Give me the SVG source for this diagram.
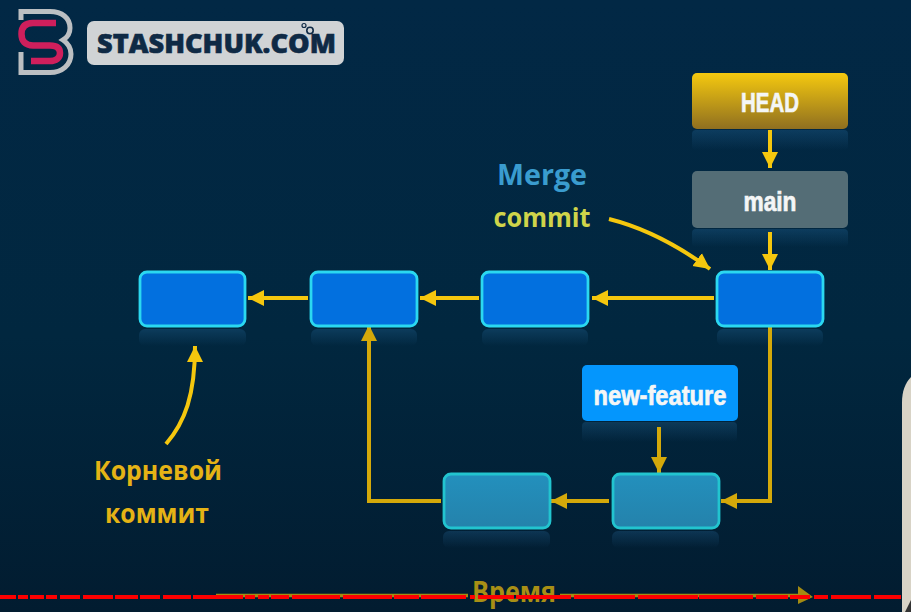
<svg xmlns="http://www.w3.org/2000/svg" width="911" height="612" viewBox="0 0 911 612">
<defs>
<linearGradient id="bg" x1="0" y1="0" x2="0" y2="1"><stop offset="0" stop-color="#022845"/><stop offset="0.55" stop-color="#01273f"/><stop offset="1" stop-color="#021c30"/></linearGradient>
<linearGradient id="headFill" x1="0" y1="0" x2="0" y2="1"><stop offset="0" stop-color="#f5c90f"/><stop offset="1" stop-color="#8f6f20"/></linearGradient>
<linearGradient id="featureFill" x1="0" y1="0" x2="0" y2="1"><stop offset="0" stop-color="#2390bd"/><stop offset="1" stop-color="#2482ab"/></linearGradient>
<linearGradient id="refl" x1="0" y1="0" x2="0" y2="1"><stop offset="0" stop-color="#3a8fd0" stop-opacity="0.2"/><stop offset="1" stop-color="#3a8fd0" stop-opacity="0"/></linearGradient>
<marker id="ah" markerUnits="userSpaceOnUse" markerWidth="18" markerHeight="18" refX="16" refY="9" orient="auto"><path d="M0,1 L16,9 L0,17 Z" fill="#f5c70e"/></marker>
<marker id="ahd" markerUnits="userSpaceOnUse" markerWidth="18" markerHeight="18" refX="16" refY="9" orient="auto"><path d="M0,1 L16,9 L0,17 Z" fill="#d4a90a"/></marker>
</defs>
<style>
.commit{fill:#0270df;stroke:#2bd8f0;stroke-width:2.8}
.feat{fill:url(#featureFill);stroke:#22c4cf;stroke-width:2.8}
.refl{fill:url(#refl);stroke:none}
.c{fill:none;stroke:#f5c70e;stroke-width:4;marker-end:url(#ah)}
.cd{fill:none;stroke:#d4a90a;stroke-width:4;marker-end:url(#ahd)}
.lab{font-family:"Liberation Sans Narrow","Liberation Sans",sans-serif;font-weight:700;fill:#f4f6f6;stroke:#f4f6f6;stroke-width:.7;text-anchor:middle}
.hand{font-family:"Open Sans","DejaVu Sans",sans-serif;font-weight:700;text-anchor:middle}
</style>
<rect width="911" height="612" fill="url(#bg)"/>

<g id="logo">
<path d="M21,20 V11.5 H50 C62,11.5 70,18 70,28 C70,33 68,37 63,40 C69,44 71,48 71,54 C71,65 62,72.5 50,72.5 H21 V52" fill="none" stroke="#bcbfc2" stroke-width="5"/>
<path d="M56,23 H33 C25,23 21.500,27 21.500,34 C21.500,41 25,45.500 33,45.500 H50 C58,45.500 60,49 60,53 C60,58 56,61 50,61 H31" fill="none" stroke="#cf1f5c" stroke-width="6.500"/>
</g>
<g id="site">
<rect x="87" y="21" width="257" height="44" rx="7" fill="#d0d3d5"/>
<text x="97" y="53" font-family="'Open Sans','DejaVu Sans',sans-serif" font-weight="800" font-size="27" fill="#0f2a45" stroke="#0f2a45" stroke-width=".6" textLength="239" lengthAdjust="spacingAndGlyphs">STASHCHUK.COM</text>
<circle cx="310" cy="30.500" r="3.200" fill="none" stroke="#0f2a45" stroke-width="1.600"/>
<circle cx="304" cy="25.500" r="2" fill="none" stroke="#0f2a45" stroke-width="1.200"/>
</g>

<g id="reflections">
<rect class="refl" x="692" y="130" width="156" height="20" rx="4"/>
<rect class="refl" x="692" y="229" width="156" height="18" rx="4"/>
<rect class="refl" x="139" y="329" width="107" height="17" rx="6"/>
<rect class="refl" x="311" y="329" width="106" height="17" rx="6"/>
<rect class="refl" x="482" y="329" width="106" height="17" rx="6"/>
<rect class="refl" x="717" y="329" width="106" height="17" rx="6"/>
<rect class="refl" x="582" y="422" width="155" height="20" rx="4"/>
<rect class="refl" x="443" y="531" width="107" height="17" rx="6"/>
<rect class="refl" x="612" y="531" width="107" height="17" rx="6"/>
</g>

<g id="connectors">
<path class="c" d="M770,130 V168"/>
<path class="c" d="M770,232 V270"/>
<path class="c" d="M714,298 H592"/>
<path class="c" d="M479,298 H420"/>
<path class="c" d="M308,298 H248"/>
<path class="c" d="M609,219 C645,228 680,247 710,269"/>
<path class="c" d="M166,444 C185,422 195,395 195,346"/>
<path class="cd" d="M770,323 V501 H721"/>
<path class="cd" d="M609,501 H551"/>
<path class="cd" d="M659,427 V473"/>
<path class="cd" d="M441,501 H369 V325"/>
</g>

<g id="head"><rect x="692" y="73" width="156" height="56" rx="5" fill="url(#headFill)"/><text class="lab" x="770" y="112" font-size="27" textLength="58" lengthAdjust="spacingAndGlyphs">HEAD</text></g>
<g id="main"><rect x="692" y="171" width="156" height="57" rx="5" fill="#546d76"/><text class="lab" x="770" y="211" font-size="27" textLength="53" lengthAdjust="spacingAndGlyphs">main</text></g>
<g id="new-feature"><rect x="582" y="365" width="156" height="56" rx="5" fill="#0496fd"/><text class="lab" x="660" y="405" font-size="27" textLength="133" lengthAdjust="spacingAndGlyphs">new-feature</text></g>
<g id="commit-1"><rect class="commit" x="140" y="272" width="105" height="54" rx="7"/></g>
<g id="commit-2"><rect class="commit" x="311" y="272" width="106" height="54" rx="7"/></g>
<g id="commit-3"><rect class="commit" x="482" y="272" width="106" height="54" rx="7"/></g>
<g id="commit-4"><rect class="commit" x="717" y="272" width="106" height="54" rx="7"/></g>
<g id="feature-1"><rect class="feat" x="444" y="474" width="106" height="54" rx="7"/></g>
<g id="feature-2"><rect class="feat" x="613" y="474" width="106" height="54" rx="7"/></g>

<g id="labels">
<text class="hand" x="542" y="185" font-size="29" fill="#3a9ccf" textLength="90" lengthAdjust="spacingAndGlyphs">Merge</text>
<text class="hand" x="542" y="227" font-size="27" fill="#cfd44a" textLength="97" lengthAdjust="spacingAndGlyphs">commit</text>
<text class="hand" x="158" y="480" font-size="27" fill="#e5b315" textLength="128" lengthAdjust="spacingAndGlyphs">Корневой</text>
<text class="hand" x="157" y="523" font-size="27" fill="#e5b315" textLength="104" lengthAdjust="spacingAndGlyphs">коммит</text>
</g>

<g id="time-axis">
<path d="M216,595.500 H468 M560,595.500 H800" stroke="#a38b12" stroke-width="3.500" fill="none"/>
<path d="M798,586 L813,597 L798,604 Z" fill="#a38b12"/>
<text class="hand" x="514" y="602" font-size="28" fill="#a88f15" textLength="84" lengthAdjust="spacingAndGlyphs">Время</text>
<path d="M0,597 H16 M18,597 H28 M30,597 H44 M46,597 H57 M60,597 H80 M83,597 H113 M115,597 H138 M140,597 H160 M163,597 H191 M193,597 H243 M245,597 H255 M258,597 H269 M271,597 H289 M292,597 H340 M343,597 H392 M394,597 H419 M421,597 H466 M470,597 H475 M478,597 H514 M516,597 H571 M574,597 H635 M638,597 H698 M699,597 H753 M756,597 H788 M790,597 H810 M814,597 H828 M831,597 H871 M874,597 H901" stroke="#fc0000" stroke-width="4" fill="none"/>
</g>
<g id="edge">
<path d="M911,377 C905,383 902,392 902,402 V612 H911 Z" fill="#d8d3c6"/>
<path d="M905,612 L911,600 V612 Z" fill="#333"/>
</g>
</svg>
